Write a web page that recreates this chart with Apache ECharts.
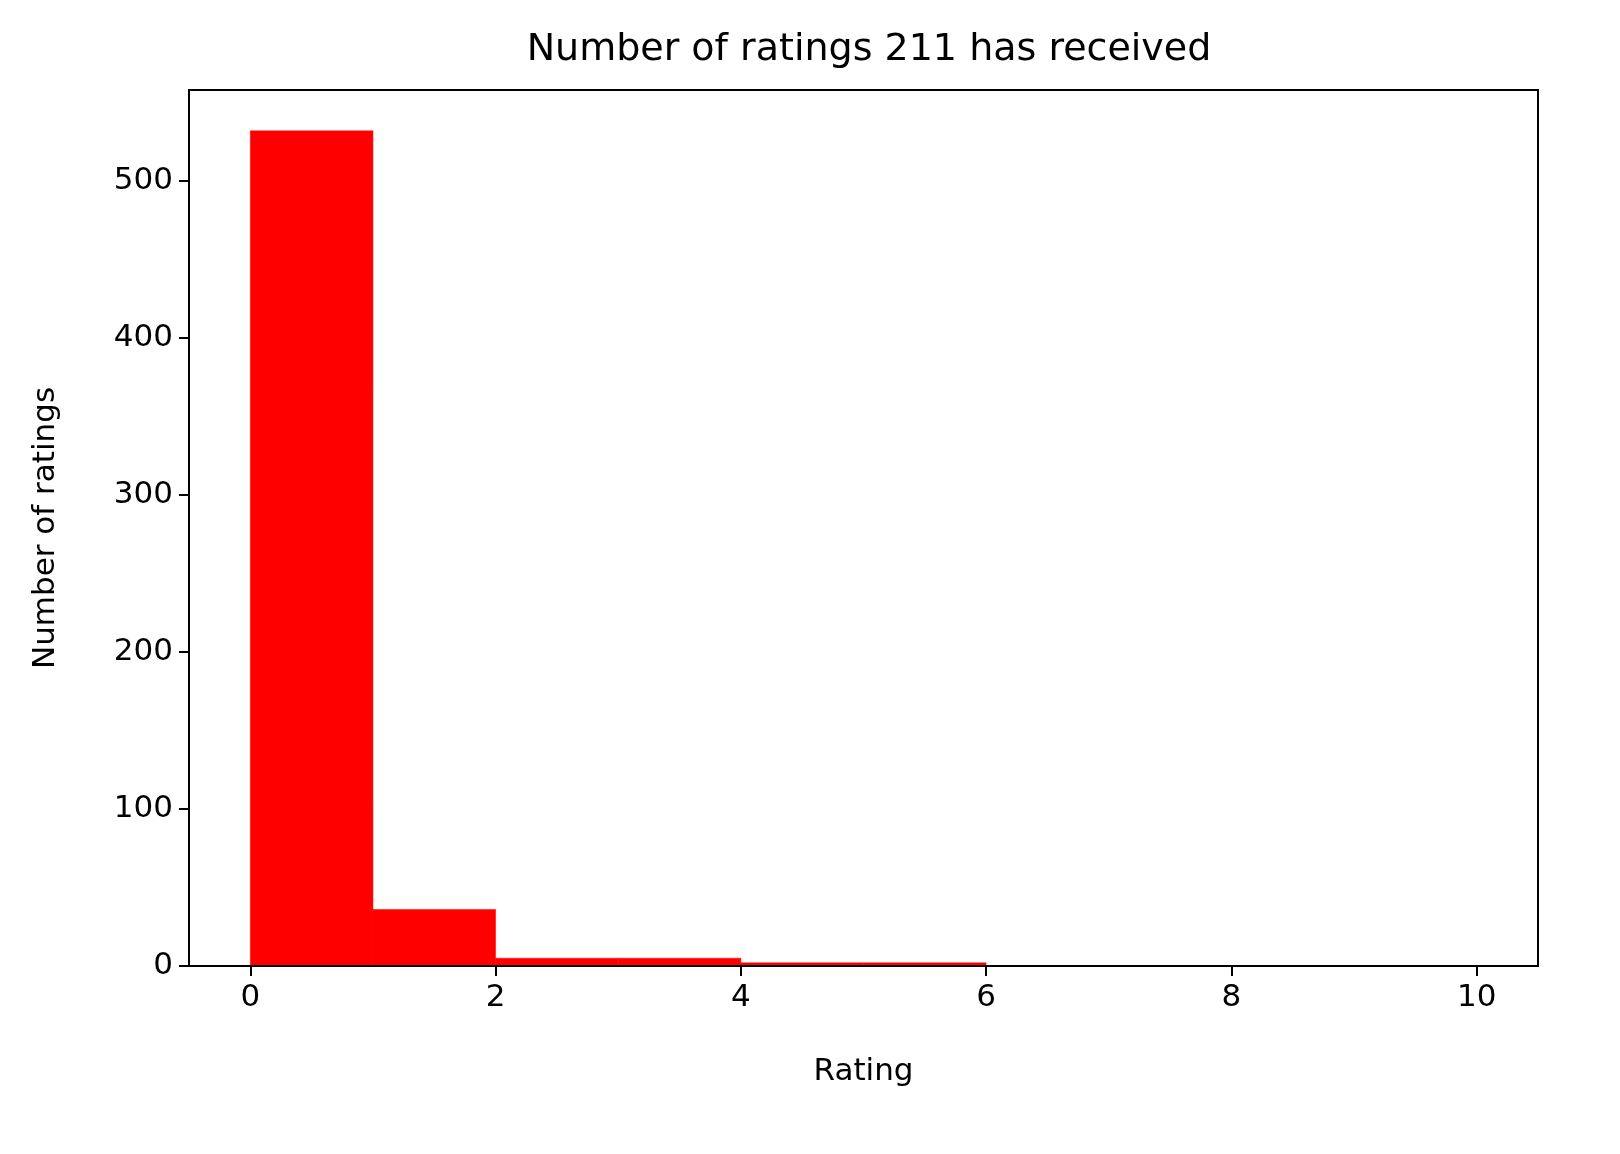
<!DOCTYPE html>
<html>
<head>
  <meta charset="UTF-8">
  <script src="https://cdn.jsdelivr.net/npm/echarts@6/dist/echarts.min.js"></script>
  <style>
    body { margin: 0; background: #fff; }
    #main { width: 1620px; height: 1154px; }
  </style>
</head>
<body>
<div id="main"></div>
<script>
  // histogram bins (rating edges) and counts
  var binStart = [0, 1, 2, 3, 4, 5, 6, 7, 8, 9];
  var binEnd = [1, 2, 3, 4, 5, 6, 7, 8, 9, 10];
  var counts = [532, 36, 5, 5, 2, 2, 0, 0, 0, 0];
  var xTicks = [0, 2, 4, 6, 8, 10];

  var data = [];
  for (var i = 0; i < counts.length; i++) {
    data.push([binStart[i], binEnd[i], counts[i]]);
  }

  var font = 'DejaVu Sans';
  var option = {
    backgroundColor: '#fff',
    animation: false,
    title: {
      text: 'Number of ratings 211 has received',
      left: 864, top: 26, textAlign: 'center',
      textStyle: { fontFamily: font, fontSize: 38, fontWeight: 'normal', color: '#000' }
    },
    grid: { left: 189, right: 82, top: 90, bottom: 188 },
    xAxis: {
      type: 'value', min: -0.5, max: 10.5,
      name: 'Rating', nameLocation: 'middle', nameGap: 90,
      nameTextStyle: { fontFamily: font, fontSize: 31, color: '#000' },
      axisLine: { show: true, onZero: false, lineStyle: { color: '#000', width: 2 } },
      axisTick: { show: true, length: 10, customValues: xTicks, lineStyle: { color: '#000', width: 2 } },
      axisLabel: { fontFamily: font, fontSize: 31, color: '#000', margin: 16, customValues: xTicks },
      splitLine: { show: false }
    },
    yAxis: {
      type: 'value', min: 0, max: 558, interval: 100,
      name: 'Number of ratings', nameLocation: 'middle', nameGap: 128,
      nameTextStyle: { fontFamily: font, fontSize: 31, color: '#000' },
      axisLine: { show: true, onZero: false, lineStyle: { color: '#000', width: 2 } },
      axisTick: { show: true, length: 10, lineStyle: { color: '#000', width: 2 } },
      axisLabel: { fontFamily: font, fontSize: 31, color: '#000', margin: 16, showMaxLabel: false },
      splitLine: { show: false }
    },
    series: [{
      type: 'custom',
      data: data,
      renderItem: function (params, api) {
        var p0 = api.coord([api.value(0), 0]);
        var p1 = api.coord([api.value(1), api.value(2)]);
        return {
          type: 'rect',
          shape: { x: p0[0], y: p1[1], width: p1[0] - p0[0], height: p0[1] - p1[1] },
          style: { fill: '#ff0000', stroke: '#ff0000', lineWidth: 0.5 }
        };
      }
    }],
    graphic: [{
      type: 'rect', z: 100,
      shape: { x: 189, y: 90, width: 1349, height: 876 },
      style: { fill: 'none', stroke: '#000', lineWidth: 2 }
    }]
  };
  echarts.init(document.getElementById('main')).setOption(option);
</script>
</body>
</html>
